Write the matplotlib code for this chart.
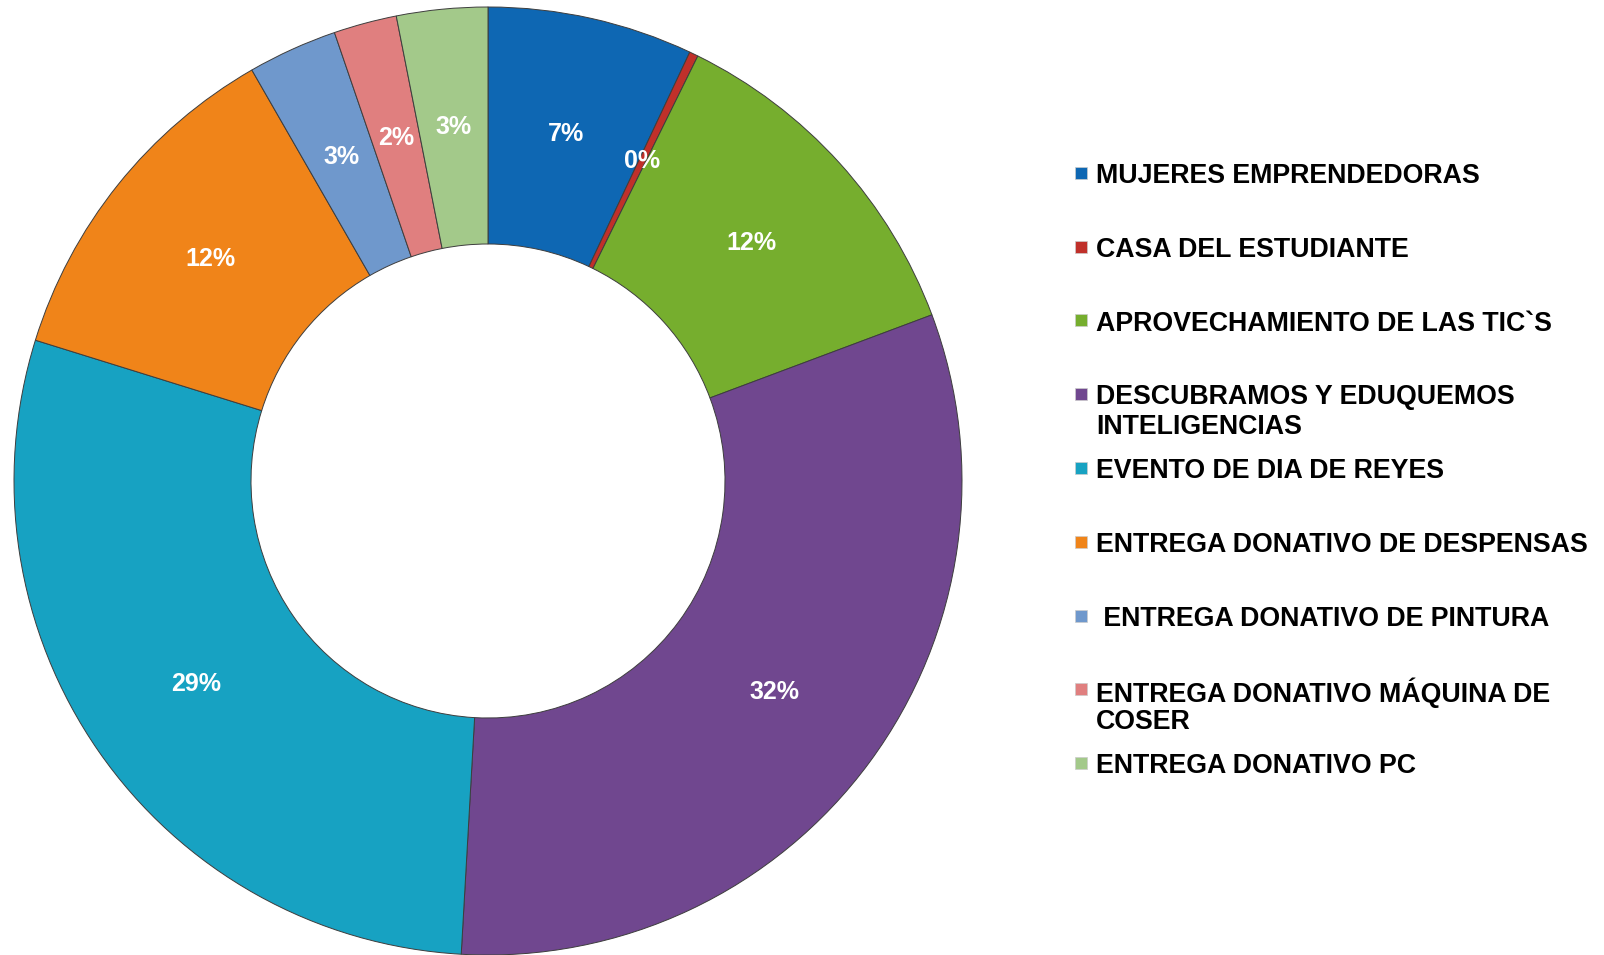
import matplotlib
matplotlib.use("Agg")
import matplotlib.pyplot as plt
from matplotlib.patches import Rectangle

# data (share of activities, %)
categorias = ['MUJERES EMPRENDEDORAS', 'CASA DEL ESTUDIANTE', 'APROVECHAMIENTO DE LAS TIC`S',
              'DESCUBRAMOS Y EDUQUEMOS\nINTELIGENCIAS', 'EVENTO DE DIA DE REYES',
              'ENTREGA DONATIVO DE DESPENSAS', ' ENTREGA DONATIVO DE PINTURA',
              'ENTREGA DONATIVO MÁQUINA DE\nCOSER', 'ENTREGA DONATIVO PC']
valores = [7.0, 0.3, 12.0, 31.6, 28.9, 11.9, 3.05, 2.15, 3.1]
colores = ['#0E67B3', '#C0302A', '#76AE2E', '#70478F', '#17A2C2',
           '#F08419', '#6F98CC', '#E07F7F', '#A3C98A']

plt.rcParams['font.family'] = ['Liberation Sans', 'DejaVu Sans']

W, H = 1604, 955
fig = plt.figure(figsize=(W / 100, H / 100), dpi=100)

# donut, centre ~ (488, 481) px, radius ~ 474 px
cx, cy, r = 488, 481, 474
ax = fig.add_axes([(cx - r) / W, (H - cy - r) / H, 2 * r / W, 2 * r / H])
wedges, _, pct = ax.pie(valores, colors=colores, startangle=90, counterclock=False,
                        autopct='%1.0f%%', pctdistance=0.75, radius=1,
                        wedgeprops=dict(width=0.5, edgecolor='#3d3d3d', linewidth=0.7),
                        textprops=dict(color='white', fontsize=18, fontweight='bold'))
ax.set_xlim(-1, 1)
ax.set_ylim(-1, 1)
ax.set_aspect('equal')
ax.axis('off')

# legend drawn by hand so every entry keeps the same slot
y0, paso, interlinea = 173, 73.75, 30
for i, (nombre, w) in enumerate(zip(categorias, wedges)):
    yc = y0 + i * paso
    fig.add_artist(Rectangle((1075 / W, 1 - (yc + 6) / H), 12 / W, 12 / H,
                             transform=fig.transFigure, facecolor=w.get_facecolor(),
                             edgecolor='#cccccc', linewidth=0.5))
    for k, linea in enumerate(nombre.split('\n')):
        fig.text(1096 / W, 1 - (yc + k * interlinea) / H, linea, fontsize=19.3,
                 fontweight='bold', va='center_baseline', ha='left', color='black')

fig.savefig('out.png', dpi=100, facecolor='white')
